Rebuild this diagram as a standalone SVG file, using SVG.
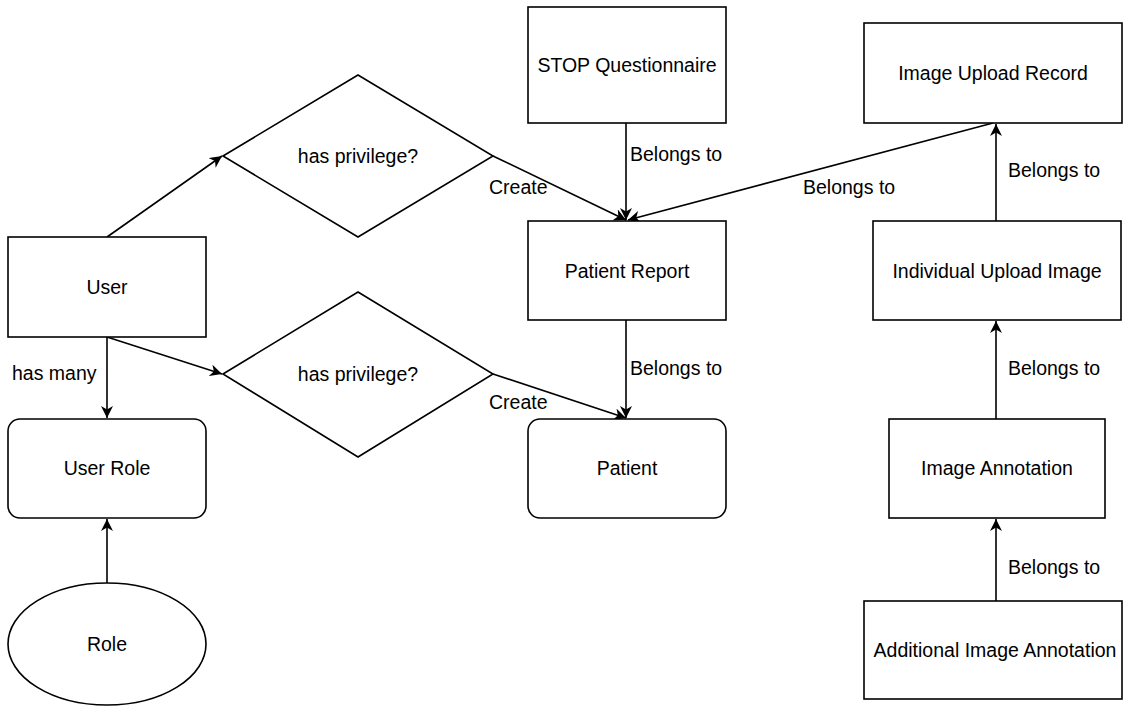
<svg xmlns="http://www.w3.org/2000/svg" width="1123" height="715" viewBox="0 0 1123 715">
<defs>
<marker id="arr" markerUnits="userSpaceOnUse" markerWidth="13" markerHeight="12" refX="12" refY="6" orient="auto" viewBox="0 0 13 12">
<path d="M0,0 L12,6 L0,12 L3.5,6 z" fill="#000"/>
</marker>
<style>
.n{fill:#fff;stroke:#000;stroke-width:1.6}
.t{font-family:"Liberation Sans",Arial,sans-serif;font-size:19.5px;fill:#000;text-anchor:middle}
.l{font-family:"Liberation Sans",Arial,sans-serif;font-size:19.5px;fill:#000}
.e{fill:none;stroke:#000;stroke-width:1.6;marker-end:url(#arr)}
</style>
</defs>
<rect width="1123" height="715" fill="#fff"/>
<g id="edges">
<line class="e" x1="107" y1="237" x2="222" y2="156"/>
<line class="e" x1="107" y1="337" x2="222" y2="374"/>
<line class="e" x1="107" y1="337" x2="107" y2="418"/>
<line class="e" x1="107" y1="583" x2="107" y2="519"/>
<line class="e" x1="626" y1="123" x2="626" y2="220"/>
<line class="e" x1="493" y1="156" x2="626" y2="220"/>
<line class="e" x1="993" y1="123" x2="628" y2="220"/>
<line class="e" x1="626" y1="320" x2="626" y2="418"/>
<line class="e" x1="493" y1="374" x2="626" y2="418"/>
<line class="e" x1="996" y1="221" x2="996" y2="124"/>
<line class="e" x1="996" y1="419" x2="996" y2="321"/>
<line class="e" x1="996" y1="601" x2="996" y2="519"/>
<text class="l" x="12" y="380">has many</text>
<text class="l" x="489" y="194">Create</text>
<text class="l" x="489" y="409">Create</text>
<text class="l" x="630" y="161">Belongs to</text>
<text class="l" x="803" y="194">Belongs to</text>
<text class="l" x="630" y="375">Belongs to</text>
<text class="l" x="1008" y="177">Belongs to</text>
<text class="l" x="1008" y="375">Belongs to</text>
<text class="l" x="1008" y="574">Belongs to</text>
</g>
<g id="user"><rect class="n" x="8" y="237" width="198" height="100"/><text class="t" x="107" y="294">User</text></g>
<g id="userRole"><rect class="n" x="8" y="419" width="198" height="99" rx="12"/><text class="t" x="107" y="475">User Role</text></g>
<g id="role"><ellipse class="n" cx="107" cy="644" rx="99" ry="61"/><text class="t" x="107" y="651">Role</text></g>
<g id="priv1"><polygon class="n" points="223,156 358,75 493,156 358,237"/><text class="t" x="358" y="163">has privilege?</text></g>
<g id="priv2"><polygon class="n" points="223,374 358,292 493,374 358,457"/><text class="t" x="358" y="381">has privilege?</text></g>
<g id="stop"><rect class="n" x="528" y="7" width="198" height="116"/><text class="t" x="627" y="72">STOP Questionnaire</text></g>
<g id="patientReport"><rect class="n" x="528" y="221" width="198" height="99"/><text class="t" x="627" y="278">Patient Report</text></g>
<g id="patient"><rect class="n" x="528" y="419" width="198" height="99" rx="12"/><text class="t" x="627" y="475">Patient</text></g>
<g id="imageUploadRecord"><rect class="n" x="864" y="23" width="258" height="100"/><text class="t" x="993" y="80">Image Upload Record</text></g>
<g id="individualUploadImage"><rect class="n" x="873" y="221" width="248" height="99"/><text class="t" x="997" y="278">Individual Upload Image</text></g>
<g id="imageAnnotation"><rect class="n" x="889" y="419" width="216" height="99"/><text class="t" x="997" y="475">Image Annotation</text></g>
<g id="additionalImageAnnotation"><rect class="n" x="864" y="601" width="258" height="98"/><text class="t" x="995" y="657">Additional Image Annotation</text></g>
</svg>
